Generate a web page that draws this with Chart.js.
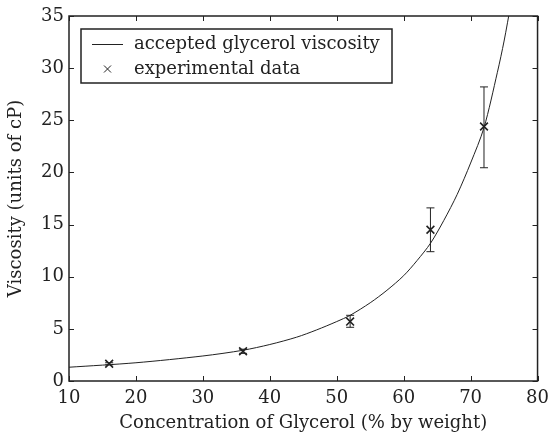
<!DOCTYPE html>
<html>
<head>
<meta charset="utf-8">
<script src="https://cdn.jsdelivr.net/npm/chart.js@4.4.0/dist/chart.umd.min.js"></script>
<style>
  html, body { margin: 0; padding: 0; background: #fff; }
  #wrap { width: 556px; height: 434px; }
</style>
</head>
<body>
<div id="wrap"><canvas id="glycerolChart" width="556" height="434"></canvas></div>
<script>
// accepted curve
const curveConc = [10, 20, 30, 36, 40, 44, 47, 50, 52, 55, 57.5, 60, 62, 64, 66, 68, 70, 72, 74, 75, 76];
const curveVisc = [1.32, 1.75, 2.4, 2.95, 3.5, 4.2, 4.9, 5.7, 6.3, 7.5, 8.7, 10.1, 11.55, 13.2, 15.4, 17.9, 20.9, 24.3, 29.6, 32.6, 36.1];

// experimental points and error bars
const expConc = [16, 36, 52, 64, 72];
const expVisc = [1.65, 2.85, 5.7, 14.5, 24.4];
const errLow = [1.55, 2.65, 5.15, 12.4, 20.45];
const errHigh = [1.75, 3.05, 6.3, 16.6, 28.2];

const xTicks = [10, 20, 30, 40, 50, 60, 70, 80];
const yTicks = [0, 5, 10, 15, 20, 25, 30, 35];

const ink = '#222';
const fontFamily = '"DejaVu Serif", serif';

Chart.defaults.font.family = fontFamily;
Chart.defaults.font.size = 18;
Chart.defaults.color = ink;

// vertical bar segments, null between them
const barData = [];
expConc.forEach(function(c, i) {
    barData.push({ x: c, y: errLow[i] });
    barData.push({ x: c, y: errHigh[i] });
    barData.push({ x: c, y: null });
});
const capData = [];
expConc.forEach(function(c, i) {
    capData.push({ x: c, y: errLow[i] });
    capData.push({ x: c, y: errHigh[i] });
});

const framePlugin = {
    id: 'frame',
    afterDatasetsDraw(chart) {
        const ctx = chart.ctx;
        const a = chart.chartArea;
        const xs = chart.scales.x, ys = chart.scales.y;
        const tl = 5;
        ctx.save();
        ctx.strokeStyle = ink;
        ctx.lineWidth = 1;
        ctx.beginPath();
        xTicks.forEach(function(v) {
            const px = Math.round(xs.getPixelForValue(v)) + 0.5;
            ctx.moveTo(px, a.bottom); ctx.lineTo(px, a.bottom - tl);
            ctx.moveTo(px, a.top); ctx.lineTo(px, a.top + tl);
        });
        yTicks.forEach(function(v) {
            const py = Math.round(ys.getPixelForValue(v)) + 0.5;
            ctx.moveTo(a.left, py); ctx.lineTo(a.left + tl, py);
            ctx.moveTo(a.right, py); ctx.lineTo(a.right - tl, py);
        });
        ctx.stroke();
        ctx.lineWidth = 1.5;
        ctx.strokeRect(a.left, a.top, a.right - a.left, a.bottom - a.top);

        // legend box
        const bx = a.left + 12, by = a.top + 13, bw = 311, bh = 54;
        ctx.fillStyle = '#fff';
        ctx.fillRect(bx, by, bw, bh);
        ctx.lineWidth = 1.5;
        ctx.strokeRect(bx, by, bw, bh);
        const row1 = by + 15, row2 = by + 40;
        ctx.lineWidth = 1;
        ctx.beginPath();
        ctx.moveTo(bx + 11, row1 + 0.5); ctx.lineTo(bx + 42, row1 + 0.5);
        const cx = bx + 26.5, r = 3.5;
        ctx.moveTo(cx - r, row2 - r); ctx.lineTo(cx + r, row2 + r);
        ctx.moveTo(cx - r, row2 + r); ctx.lineTo(cx + r, row2 - r);
        ctx.stroke();
        ctx.fillStyle = ink;
        ctx.font = '18px ' + fontFamily;
        ctx.textBaseline = 'middle';
        ctx.textAlign = 'left';
        ctx.fillText(chart.data.datasets[0].label, bx + 53, row1);
        ctx.fillText(chart.data.datasets[1].label, bx + 53, row2);
        ctx.restore();
    }
};

const chart = new Chart(document.getElementById('glycerolChart'), {
    type: 'scatter',
    data: {
        datasets: [
            {
                label: 'accepted glycerol viscosity',
                type: 'line',
                data: curveConc.map(function(c, i) { return { x: c, y: curveVisc[i] }; }),
                borderColor: ink,
                borderWidth: 1,
                pointRadius: 0,
                tension: 0.3,
                fill: false
            },
            {
                label: 'experimental data',
                data: expConc.map(function(c, i) { return { x: c, y: expVisc[i] }; }),
                pointStyle: 'crossRot',
                pointRadius: 5.5,
                borderColor: ink,
                borderWidth: 1.6,
                backgroundColor: ink
            },
            {
                label: 'error bars',
                type: 'line',
                data: barData,
                borderColor: ink,
                borderWidth: 1,
                pointRadius: 0,
                spanGaps: false
            },
            {
                label: 'error caps',
                data: capData,
                pointStyle: 'line',
                pointRadius: 4,
                borderColor: ink,
                borderWidth: 1
            }
        ]
    },
    options: {
        responsive: false,
        animation: false,
        devicePixelRatio: 1,
        layout: { padding: { left: 0, right: 11, top: 16, bottom: 0 } },
        scales: {
            x: {
                type: 'linear',
                min: 10,
                max: 80,
                afterFit: function(s) { s.height = 53; },
                afterBuildTicks: function(s) { s.ticks = xTicks.map(function(v) { return { value: v }; }); },
                grid: { display: false, drawTicks: false },
                border: { display: false },
                ticks: { padding: 7, color: ink },
                title: {
                    display: true,
                    text: 'Concentration of Glycerol (% by weight)',
                    color: ink,
                    font: { size: 18 },
                    padding: { top: 0, bottom: 0 }
                }
            },
            y: {
                min: 0,
                max: 35,
                afterFit: function(s) { s.width = 69; },
                afterBuildTicks: function(s) { s.ticks = yTicks.map(function(v) { return { value: v }; }); },
                grid: { display: false, drawTicks: false },
                border: { display: false },
                ticks: { padding: 5, color: ink },
                title: {
                    display: true,
                    text: 'Viscosity (units of cP)',
                    color: ink,
                    font: { size: 18 },
                    padding: { top: 6, bottom: 0 }
                }
            }
        },
        plugins: {
            legend: { display: false },
            tooltip: { enabled: false }
        }
    },
    plugins: [framePlugin]
});
</script>
</body>
</html>
